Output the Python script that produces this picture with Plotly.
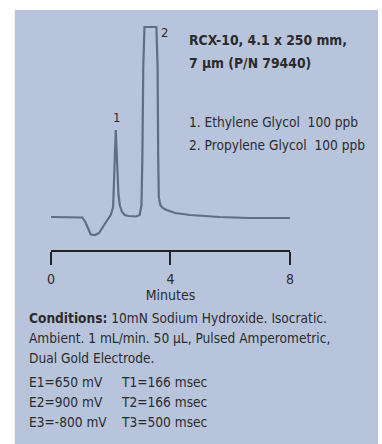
import plotly.graph_objects as go

# Chromatogram trace (time in minutes, detector response in arbitrary units)
time_min = [0.0, 0.39, 1.05, 1.15, 1.25, 1.33, 1.48, 1.61, 1.80, 2.00, 2.08, 2.12, 2.15, 2.17,
            2.19, 2.22, 2.26, 2.31, 2.38, 2.47, 2.59, 2.85, 2.97, 3.03, 3.06, 3.09, 3.13,
            3.53, 3.57, 3.59, 3.61, 3.66, 3.74, 3.87, 4.16, 4.66, 5.64, 6.62, 8.0]
response = [0, 0, -0.5, -5, -13, -17.5, -18, -16, -7, 2, 10, 40, 75, 87,
            72, 45, 22, 11, 5, 2, 1, 0.5, 2, 12, 60, 150, 190,
            190, 150, 60, 20, 12, 9, 7, 4, 2, 0, -1, -1]

# Peak labels
peak_names = ["1", "2"]
peak_times = [2.2, 3.8]
peak_heights = [100, 184]

tick_values = [0, 4, 8]
tick_labels = ["0", "4", "8"]

title_lines = ["RCX-10, 4.1 x 250 mm,", "7 µm (P/N 79440)"]
analytes = ["1. Ethylene Glycol  100 ppb", "2. Propylene Glycol  100 ppb"]
conditions = [
    "<b>Conditions:</b> 10mN Sodium Hydroxide. Isocratic.",
    "Ambient. 1 mL/min. 50 µL, Pulsed Amperometric,",
    "Dual Gold Electrode.",
]
potentials = ["E1=650 mV", "E2=900 mV", "E3=-800 mV"]
durations = ["T1=166 msec", "T2=166 msec", "T3=500 msec"]

W, H = 382, 444
FONT = "DejaVu Sans Condensed, sans-serif"
TXT = "#2b2b2b"
PANEL = "#b8c4dc"
TRACE = "#5f6d87"


def px(x):
    return x / W


def py(y):
    return 1 - y / H


fig = go.Figure()
fig.add_trace(go.Scatter(
    x=time_min, y=response, mode="lines",
    line=dict(color=TRACE, width=2.2),
    hoverinfo="skip", showlegend=False,
))

# Background panel
fig.add_shape(type="rect", xref="paper", yref="paper",
              x0=px(11), x1=1.0, y0=0.0, y1=py(10),
              fillcolor=PANEL, line=dict(width=0), layer="below")

annotations = []
for name, t, h in zip(peak_names, peak_times, peak_heights):
    annotations.append(dict(x=t, y=h, xref="x", yref="y", text=name,
                            showarrow=False, font=dict(size=13, color=TXT, family=FONT)))

for i, line in enumerate(title_lines):
    annotations.append(dict(x=px(187), y=py(40 + 23 * i), xref="paper", yref="paper",
                            text=f"<b>{line}</b>", showarrow=False, xanchor="left",
                            yanchor="middle", font=dict(size=13.8, color=TXT, family=FONT)))

for i, line in enumerate(analytes):
    annotations.append(dict(x=px(187), y=py(122 + 23 * i), xref="paper", yref="paper",
                            text=line, showarrow=False, xanchor="left",
                            yanchor="middle", font=dict(size=13.6, color=TXT, family=FONT)))

cond_y = [318, 338, 358]
for y, line in zip(cond_y, conditions):
    annotations.append(dict(x=px(23), y=py(y), xref="paper", yref="paper",
                            text=line, showarrow=False, xanchor="left",
                            yanchor="middle", font=dict(size=13.6, color=TXT, family=FONT)))

pot_y = [382, 402, 422]
for y, e, t in zip(pot_y, potentials, durations):
    annotations.append(dict(x=px(23), y=py(y), xref="paper", yref="paper",
                            text=e, showarrow=False, xanchor="left",
                            yanchor="middle", font=dict(size=13.6, color=TXT, family=FONT)))
    annotations.append(dict(x=px(117), y=py(y), xref="paper", yref="paper",
                            text=t, showarrow=False, xanchor="left",
                            yanchor="middle", font=dict(size=13.6, color=TXT, family=FONT)))

fig.update_layout(
    width=W, height=H,
    margin=dict(l=0, r=0, t=0, b=0),
    paper_bgcolor="white",
    plot_bgcolor="rgba(0,0,0,0)",
    annotations=annotations,
    xaxis=dict(
        domain=[px(48), px(292)], range=[0, 8],
        showline=True, linecolor="#222222", linewidth=2,
        ticks="outside", ticklen=13, tickwidth=2, tickcolor="#222222",
        tickvals=tick_values, ticktext=tick_labels,
        tickfont=dict(size=14, color=TXT, family=FONT),
        ticklabelstandoff=2,
        showgrid=False, zeroline=False,
        title=dict(text="Minutes", font=dict(size=14, color=TXT, family=FONT), standoff=0),
    ),
    yaxis=dict(
        domain=[py(250), py(20)], range=[-33, 197],
        visible=False,
    ),
)

fig.write_html("out.html")
